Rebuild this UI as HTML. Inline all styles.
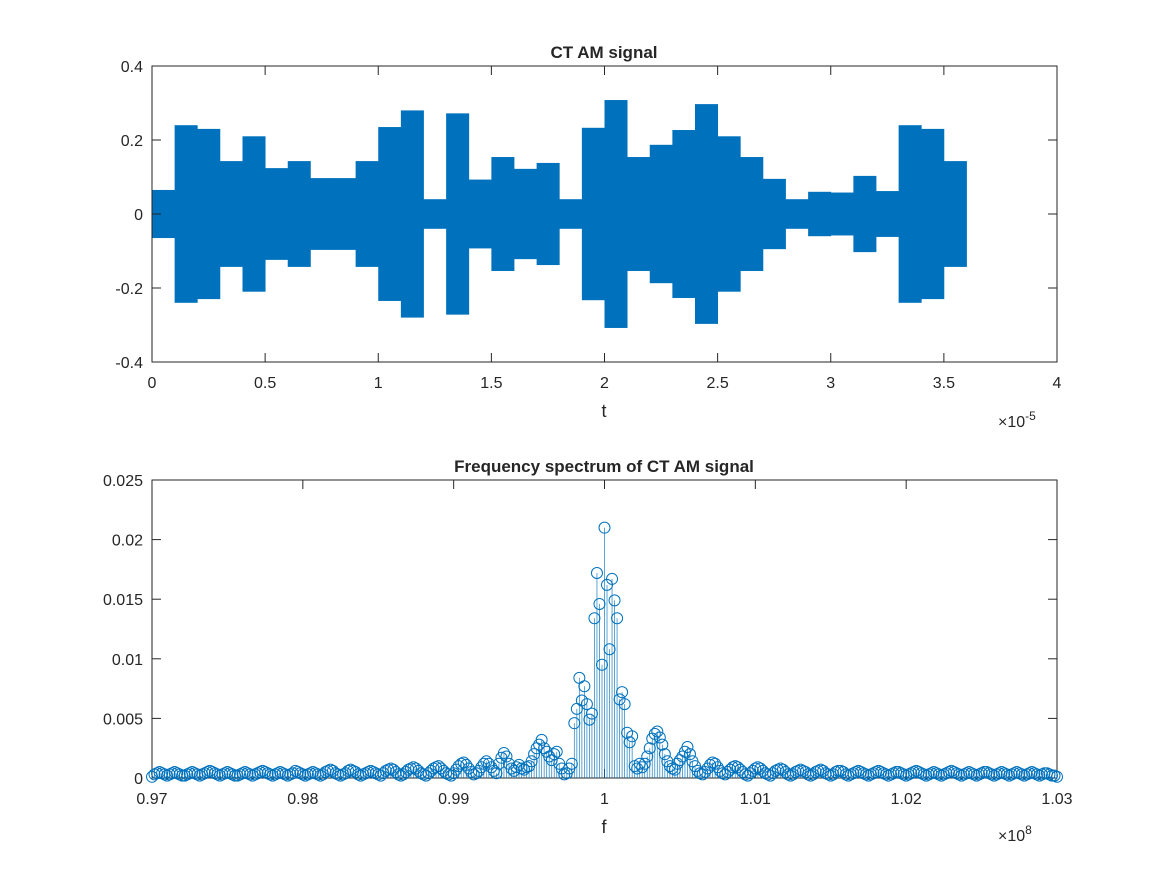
<!DOCTYPE html>
<html><head><meta charset="utf-8"><style>
body{margin:0;background:#fff}
svg text{font-family:"Liberation Sans",Arial,sans-serif;fill:#262626}
</style></head><body>
<svg id="fig" width="1167" height="875" viewBox="0 0 1167 875" xmlns="http://www.w3.org/2000/svg"></svg>
<script>
// Top chart data: envelope amplitude per 1e-6 s segment (t in units of 1e-5)
const segStarts = [0,0.1,0.2,0.3,0.4,0.5,0.6,0.7,0.8,0.9,1.0,1.1,1.2,1.3,1.4,1.5,1.6,1.7,1.8,1.9,2.0,2.1,2.2,2.3,2.4,2.5,2.6,2.7,2.8,2.9,3.0,3.1,3.2,3.3,3.4,3.5];
const segAmps = [0.065,0.24,0.23,0.143,0.21,0.124,0.143,0.097,0.097,0.143,0.235,0.28,0.04,0.272,0.093,0.154,0.122,0.138,0.04,0.233,0.308,0.154,0.187,0.227,0.297,0.21,0.154,0.095,0.04,0.06,0.058,0.103,0.062,0.24,0.23,0.143];
const topXTicks = [0,0.5,1,1.5,2,2.5,3,3.5,4];
const topYTicks = [-0.4,-0.2,0,0.2,0.4];
// Bottom chart data: spectrum magnitudes (units of 1e-4), f from 0.97e8 to 1.03e8
const specLeft = [1,3,4,5,4,3,2,3,4,5,4,3,2,2,3,4,5,4,3,2,3,4,5,6,5,4,3,2,3,4,5,4,3,2,2,3,4,5,4,3,2,3,4,5,6,5,4,3,2,3,4,5,4,3,2,3,4,6,5,4,3,2,3,4,5,4,3,2,3,5,6,7,6,4,3,2,3,4,6,7,6,5,3,2,3,4,5,6,5,4,3,2,4,6,7,8,7,5,3,2,3,5,7,8,9,8,6,4,3,2,4,6,8,9,10,8,6,4,3,2,4,7,10,12,13,11,8,5,3,4,6,9,12,14,12,9,6,4];
const specMid = [12,17,21,18,12,8,6,9,11,8,7,9,10,14,20,25,28,32,25,22,18,15,20,22,12,8,3,4,8,12,46,58,84,65,77,62,49,54,134,172,146,95,210,162,108,167,149,134,66,72,62,38,30,35,10,8,12,9,12,18,25,33,37,39,34,28,20,14,10,8,7,12,15,18,22,26,20,14];
const specRight = [10,6,4,3,5,8,11,13,12,9,6,4,3,5,7,9,10,9,7,5,3,2,4,6,8,9,8,6,4,3,2,4,6,7,8,7,5,3,2,3,5,6,7,6,5,3,2,3,5,6,7,6,4,3,2,3,5,6,6,5,3,2,3,4,5,6,5,4,3,2,3,4,5,6,5,4,3,2,3,4,5,5,4,3,2,3,4,5,6,5,4,3,2,3,4,5,4,3,2,3,4,5,6,5,4,3,2,3,4,5,4,3,2,3,4,5,5,4,3,2,3,4,5,4,3,2,3,4,5,4,3,2,3,4,5,4,3,2,3,4,4,3,2,2,1];
const botXTicks = ['0.97','0.98','0.99','1','1.01','1.02','1.03'];
const botYTicks = ['0','0.005','0.01','0.015','0.02','0.025'];

const NS='http://www.w3.org/2000/svg';
const svg=document.getElementById('fig');
function mk(tag,attrs,parent){const e=document.createElementNS(NS,tag);for(const k in attrs)e.setAttribute(k,attrs[k]);(parent||svg).appendChild(e);return e;}
function txt(s,attrs,parent){const e=mk('text',attrs,parent);e.textContent=s;return e;}

const C='#0072bd';
// ---------- Top axes ----------
const T={x0:152,x1:1057,y0:66,y1:362,xmin:0,xmax:4,ymin:-0.4,ymax:0.4};
const tx=v=>T.x0+(v-T.xmin)/(T.xmax-T.xmin)*(T.x1-T.x0);
const ty=v=>T.y1-(v-T.ymin)/(T.ymax-T.ymin)*(T.y1-T.y0);
const gTop=mk('g',{});


segStarts.forEach((s,i)=>{
  const r=mk('rect',{x:tx(s),y:ty(segAmps[i]),width:tx(s+0.1)-tx(s)+0.4,height:ty(-segAmps[i])-ty(segAmps[i]),fill:C},gTop);
  
  
});
function frame(A,g){
  mk('rect',{x:A.x0,y:A.y0,width:A.x1-A.x0,height:A.y1-A.y0,fill:'none',stroke:'#262626','stroke-width':1},g);
}
frame(T,gTop);
topXTicks.forEach(v=>{
  const x=tx(v);
  mk('line',{x1:x,x2:x,y1:T.y1,y2:T.y1-9,stroke:'#262626'},gTop);
  mk('line',{x1:x,x2:x,y1:T.y0,y2:T.y0+9,stroke:'#262626'},gTop);
  const l=txt(String(v),{x:x,y:T.y1+26,'text-anchor':'middle','font-size':16},gTop);
  
  
});
topYTicks.forEach(v=>{
  const y=ty(v);
  mk('line',{x1:T.x0,x2:T.x0+9,y1:y,y2:y,stroke:'#262626'},gTop);
  mk('line',{x1:T.x1,x2:T.x1-9,y1:y,y2:y,stroke:'#262626'},gTop);
  const l=txt(String(v),{x:T.x0-9,y:y+6,'text-anchor':'end','font-size':16},gTop);
  
  
});
let t1=txt('CT AM signal',{x:604,y:58,'text-anchor':'middle','font-size':17,'font-weight':'bold'},gTop);

let xl1=txt('t',{x:604,y:417,'text-anchor':'middle','font-size':18},gTop);

let ex1=mk('text',{x:998,y:427,'font-size':16},gTop);
ex1.innerHTML='×10<tspan dy="-7" font-size="12">-5</tspan>';


// ---------- Bottom axes ----------
const B={x0:152,x1:1057,y0:480,y1:778,xmin:0.97,xmax:1.03,ymin:0,ymax:0.025};
const spec=specLeft.concat(specMid,specRight);
const n=spec.length;
const bx=v=>B.x0+(v-B.xmin)/(B.xmax-B.xmin)*(B.x1-B.x0);
const by=v=>B.y1-(v-B.ymin)/(B.ymax-B.ymin)*(B.y1-B.y0);
const gBot=mk('g',{});


frame(B,gBot);
botXTicks.forEach(s=>{
  const x=bx(parseFloat(s));
  mk('line',{x1:x,x2:x,y1:B.y1,y2:B.y1-9,stroke:'#262626'},gBot);
  mk('line',{x1:x,x2:x,y1:B.y0,y2:B.y0+9,stroke:'#262626'},gBot);
  const l=txt(s,{x:x,y:B.y1+26,'text-anchor':'middle','font-size':16},gBot);
  
  
});
botYTicks.forEach(s=>{
  const y=by(parseFloat(s));
  mk('line',{x1:B.x0,x2:B.x0+9,y1:y,y2:y,stroke:'#262626'},gBot);
  mk('line',{x1:B.x1,x2:B.x1-9,y1:y,y2:y,stroke:'#262626'},gBot);
  const l=txt(s,{x:B.x0-9,y:y+6,'text-anchor':'end','font-size':16},gBot);
  
  
});
const gStem=mk('g',{},gBot);


for(let i=0;i<n;i++){
  const f=B.xmin+(B.xmax-B.xmin)*i/(n-1);
  const v=spec[i]*1e-4;
  const x=bx(f),y=by(v);
  const ln=mk('line',{x1:x,x2:x,y1:B.y1,y2:y,stroke:C,'stroke-width':0.8,'stroke-opacity':0.8},gStem);
  
  
}
for(let i=0;i<n;i++){
  const f=B.xmin+(B.xmax-B.xmin)*i/(n-1);
  const v=spec[i]*1e-4;
  const c=mk('circle',{cx:bx(f),cy:by(v),r:5.5,fill:'none',stroke:C,'stroke-width':1},gStem);
  
  
}
let t2=txt('Frequency spectrum of CT AM signal',{x:604,y:472,'text-anchor':'middle','font-size':17,'font-weight':'bold'},gBot);

let xl2=txt('f',{x:604,y:833,'text-anchor':'middle','font-size':18},gBot);

let ex2=mk('text',{x:998,y:841,'font-size':16},gBot);
ex2.innerHTML='×10<tspan dy="-7" font-size="12">8</tspan>';

</script>
</body></html>
